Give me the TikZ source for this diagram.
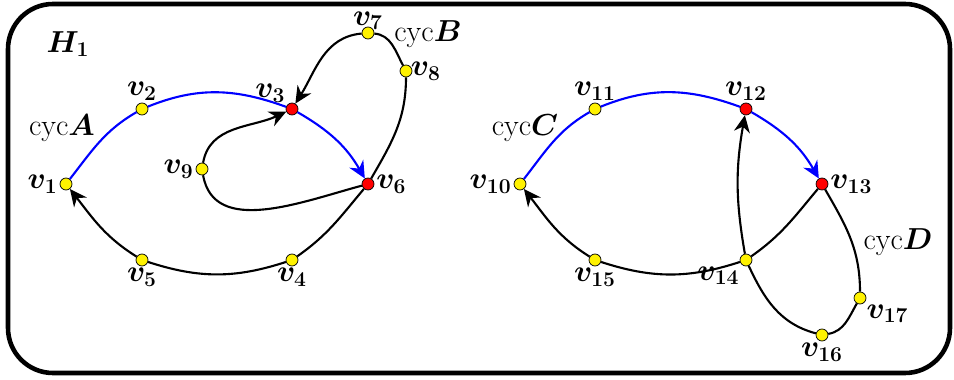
\documentclass[tikz,border=0pt]{standalone}
\usepackage{amsmath,bm}
\usetikzlibrary{arrows.meta}
\tikzset{
  vtx/.style={circle, draw=black, line width=0.4pt, fill=yellow, minimum size=0.24cm, inner sep=0pt},
  hot/.style={vtx, fill=red},
  lab/.style={font=\fontsize{17}{20}\selectfont, inner sep=1pt},
  edge/.style={line width=1.2pt, draw=black},
  cycedge/.style={line width=1.2pt, draw=blue},
  tip/.style={-{Stealth[length=3.4mm, width=3.2mm]}}
}

\begin{document}
\begin{tikzpicture}[x=0.02cm, y=0.02cm]
  \useasboundingbox (0,0) rectangle (954,379);
  \draw[line width=2.6pt, rounded corners=0.9cm] (8,6) rectangle (950,375);
  \node[lab] (h1) at (68,335) {$\bm{H_1}$};

  % left graph
  \node[vtx, label={[lab]left:$\bm{v_1}$}] (v1) at (66,195) {};
  \node[vtx, label={[lab]above:$\bm{v_2}$}] (v2) at (142,270) {};
  \node[hot, label={[lab]above left=-1pt and -6pt:$\bm{v_3}$}] (v3) at (292,270) {};
  \node[vtx, label={[lab]below:$\bm{v_4}$}] (v4) at (292,119) {};
  \node[vtx, label={[lab]below:$\bm{v_5}$}] (v5) at (142,119) {};
  \node[hot, label={[lab]right:$\bm{v_6}$}] (v6) at (368,195) {};
  \node[vtx, label={[lab, label distance=-3pt]above:$\bm{v_7}$}] (v7) at (368,346) {};
  \node[vtx, label={[lab, label distance=-2pt]right:$\bm{v_8}$}] (v8) at (406,308) {};
  \node[vtx, label={[lab]left:$\bm{v_9}$}] (v9) at (202,210) {};
  \node[lab] (ca) at (62,251) {$\mathrm{cyc}\bm{A}$};
  \node[lab] (cb) at (428,345) {$\mathrm{cyc}\bm{B}$};

  \draw[cycedge] (v1) to[out=52, in=210] (v2);
  \draw[cycedge] (v2) to[out=22, in=160] (v3);
  \draw[cycedge, tip] (v3) to[out=-30, in=120] (v6);
  \draw[edge] (v6) to[out=230, in=35] (v4);
  \draw[edge] (v4) to[out=198, in=-18] (v5);
  \draw[edge, tip] (v5) to[out=148, in=-52] (v1);
  \draw[edge] (v6) to[out=60, in=-90] (v8);
  \draw[edge] (v8) to[out=118, in=-5] (v7);
  \draw[edge, tip] (v7) to[out=185, in=58] (v3);
  \draw[edge] (v6) to[out=195, in=-80] (v9);
  \draw[edge, tip] (v9) to[out=80, in=205] (v3);

  % right graph
  \node[vtx, label={[lab]left:$\bm{v_{10}}$}] (v10) at (520,195) {};
  \node[vtx, label={[lab]above:$\bm{v_{11}}$}] (v11) at (595,270) {};
  \node[hot, label={[lab]above:$\bm{v_{12}}$}] (v12) at (746,270) {};
  \node[hot, label={[lab]right:$\bm{v_{13}}$}] (v13) at (822,195) {};
  \node[vtx, label={[lab]below left=2pt and -10pt:$\bm{v_{14}}$}] (v14) at (746,119) {};
  \node[vtx, label={[lab]below:$\bm{v_{15}}$}] (v15) at (595,119) {};
  \node[vtx, label={[lab]below:$\bm{v_{16}}$}] (v16) at (822,44) {};
  \node[vtx, label={[lab]below right=-2pt and -8pt:$\bm{v_{17}}$}] (v17) at (860,81) {};
  \node[lab] (cc) at (525,251) {$\mathrm{cyc}\bm{C}$};
  \node[lab] (cd) at (898,137) {$\mathrm{cyc}\bm{D}$};

  \draw[cycedge] (v10) to[out=52, in=210] (v11);
  \draw[cycedge] (v11) to[out=22, in=160] (v12);
  \draw[cycedge, tip] (v12) to[out=-30, in=120] (v13);
  \draw[edge] (v13) to[out=230, in=35] (v14);
  \draw[edge] (v14) to[out=198, in=-18] (v15);
  \draw[edge, tip] (v15) to[out=148, in=-52] (v10);
  \draw[edge, tip] (v14) to[out=100, in=-100] (v12);
  \draw[edge] (v13) to[out=-60, in=90] (v17);
  \draw[edge] (v17) to[out=-120, in=10] (v16);
  \draw[edge] (v16) to[out=165, in=-65] (v14);
\end{tikzpicture}
\end{document}
